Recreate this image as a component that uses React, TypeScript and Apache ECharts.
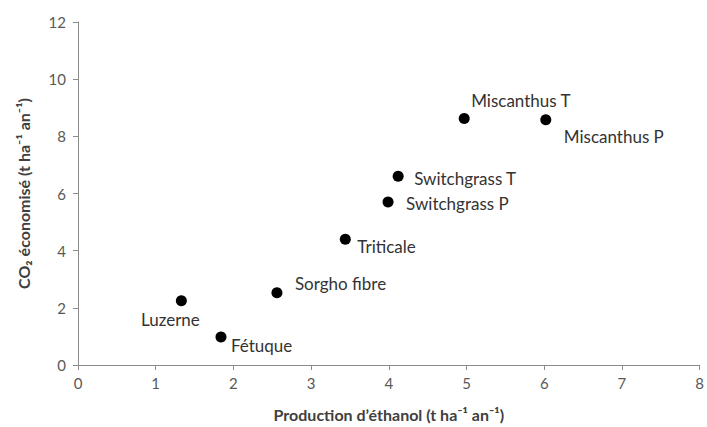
import React, { useEffect, useRef } from "react";
import * as echarts from "echarts";

const cultures = ["Luzerne", "Fétuque", "Sorgho fibre", "Triticale", "Switchgrass P", "Switchgrass T", "Miscanthus T", "Miscanthus P"];
const ethanol = [1.33, 1.84, 2.56, 3.44, 3.99, 4.12, 4.97, 6.02];
const co2 = [2.25, 0.98, 2.53, 4.4, 5.7, 6.6, 8.62, 8.58];
const xTicks = [0, 1, 2, 3, 4, 5, 6, 7, 8];
const yTicks = [0, 2, 4, 6, 8, 10, 12];

const labelPlacement: Record<string, { offset: [number, number]; align: string }> = {
  "Luzerne": { offset: [-11, 19], align: "center" },
  "Fétuque": { offset: [10, 9], align: "left" },
  "Sorgho fibre": { offset: [18, -9], align: "left" },
  "Triticale": { offset: [12, 7], align: "left" },
  "Switchgrass P": { offset: [18, 1], align: "left" },
  "Switchgrass T": { offset: [16, 2], align: "left" },
  "Miscanthus T": { offset: [7, -18], align: "left" },
  "Miscanthus P": { offset: [18, 17], align: "left" },
};

const FONT = "Lato";

export default function App() {
  const ref = useRef<HTMLDivElement>(null);
  useEffect(() => {
    if (!ref.current) return;
    const chart = echarts.init(ref.current, null, { renderer: "svg" });
    const axisLine = { show: true, lineStyle: { color: "#8c8c8c", width: 1 } };
    chart.setOption({
      animation: false,
      backgroundColor: "#ffffff",
      grid: { left: 78, right: 5, top: 22, bottom: 62, containLabel: false },
      xAxis: {
        type: "value",
        min: xTicks[0],
        max: xTicks[xTicks.length - 1],
        interval: 1,
        name: "Production d’éthanol (t ha⁻¹ an⁻¹)",
        nameLocation: "middle",
        nameGap: 41,
        nameTextStyle: { fontFamily: FONT, fontSize: 16, fontWeight: "bold", color: "#404040" },
        axisLine,
        axisTick: { show: true, inside: false, length: 5, lineStyle: { color: "#8c8c8c" } },
        axisLabel: { fontFamily: FONT, fontSize: 15, color: "#595959", margin: 10 },
        splitLine: { show: false },
      },
      yAxis: {
        type: "value",
        min: yTicks[0],
        max: yTicks[yTicks.length - 1],
        interval: 2,
        name: "CO₂ économisé (t ha⁻¹ an⁻¹)",
        nameLocation: "middle",
        nameGap: 47,
        nameTextStyle: { fontFamily: FONT, fontSize: 16, fontWeight: "bold", color: "#404040" },
        axisLine,
        axisTick: { show: true, inside: false, length: 5, lineStyle: { color: "#8c8c8c" } },
        axisLabel: { fontFamily: FONT, fontSize: 15, color: "#595959", margin: 12 },
        splitLine: { show: false },
      },
      series: [
        {
          type: "scatter",
          symbol: "circle",
          symbolSize: 11,
          itemStyle: { color: "#000000", opacity: 1 },
          data: cultures.map((name, i) => {
            const p = labelPlacement[name];
            return {
              name,
              value: [ethanol[i], co2[i]],
              label: {
                show: true,
                position: "inside",
                formatter: name,
                align: p.align,
                verticalAlign: "middle",
                offset: p.offset,
                fontFamily: FONT,
                fontSize: 17,
                color: "#333333",
              },
            };
          }),
        },
      ],
    });
    return () => chart.dispose();
  }, []);
  return <div ref={ref} style={{ position: "fixed", left: 0, top: 0, width: 707, height: 427 }} />;
}
